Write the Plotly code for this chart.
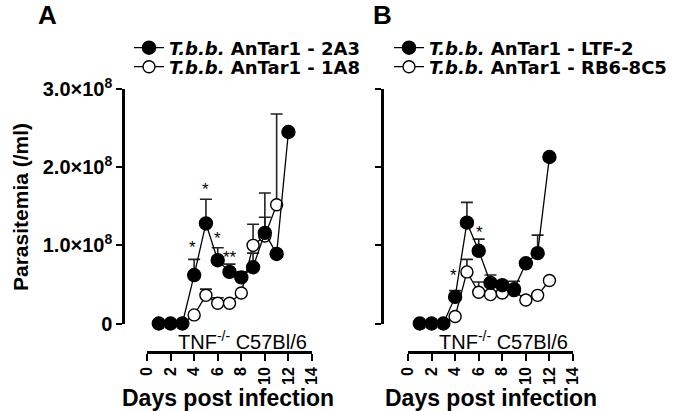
import plotly.graph_objects as go

W, H = 675, 411

days = [1, 2, 3, 4, 5, 6, 7, 8, 9, 10, 11, 12]

# Panel A
a_2a3 = [0, 0, 0, 0.62e8, 1.28e8, 0.81e8, 0.66e8, 0.59e8, 0.72e8, 1.16e8, 0.89e8, 2.45e8]
a_2a3_err = [0, 0, 0, 0.20e8, 0.31e8, 0.16e8, 0.10e8, 0.07e8, 0.18e8, 0.51e8, 0, 0]
a_1a8 = [0, 0, 0, 0.11e8, 0.36e8, 0.26e8, 0.26e8, 0.39e8, 1.00e8, 1.12e8, 1.52e8, None]
a_1a8_err = [0, 0, 0, 0, 0.08e8, 0.07e8, 0, 0, 0.27e8, 0.24e8, 1.16e8, 0]

# Panel B
b_ltf2 = [0, 0, 0, 0.34e8, 1.29e8, 0.93e8, 0.52e8, 0.49e8, 0.44e8, 0.77e8, 0.90e8, 2.13e8]
b_ltf2_err = [0, 0, 0, 0.08e8, 0.26e8, 0.15e8, 0.10e8, 0, 0.10e8, 0, 0.23e8, 0]
b_rb6 = [0, 0, 0, 0.09e8, 0.66e8, 0.40e8, 0.37e8, 0.39e8, 0.42e8, 0.30e8, 0.36e8, 0.55e8]
b_rb6_err = [0, 0, 0, 0, 0.16e8, 0.13e8, 0, 0, 0, 0, 0, 0]

# significance stars (day, level)
a_star_days = [3.9, 5.0, 6.0, 7.07]
a_star_levels = [1.02e8, 1.77e8, 1.14e8, 0.89e8]
a_star_text = ["*", "*", "*", "**"]
b_star_days = [3.9, 6.1]
b_star_levels = [0.67e8, 1.22e8]
b_star_text = ["*", "*"]

y_tickvals = [0, 1e8, 2e8, 3e8]
y_ticktext = ["0", "1.0×10<sup>8</sup>", "2.0×10<sup>8</sup>", "3.0×10<sup>8</sup>"]
x_tickvals = [0, 2, 4, 6, 8, 10, 12, 14]

FONT = "Arial, Liberation Sans, sans-serif"
LFONT = "DejaVu Sans, Arial, sans-serif"


def px_x(p):
    return p / W


def px_y(p):
    return 1 - p / H


fig = go.Figure()


def add_series(x, y, err, name, filled, xa, ya, legend):
    fig.add_trace(go.Scatter(
        x=x, y=y, name=name, mode="lines+markers",
        xaxis=xa, yaxis=ya, legend=legend,
        cliponaxis=False,
        line=dict(color="black", width=1.3),
        marker=dict(size=13 if filled else 12,
                    color="black" if filled else "white",
                    line=dict(color="black", width=1.4),
                    symbol="circle"),
        error_y=dict(type="data", symmetric=False, array=err,
                     arrayminus=[0] * len(err), color="#222", thickness=1.6, width=6),
    ))


# open first so filled is drawn on top
add_series(days, a_1a8, a_1a8_err, "<b><i>T.b.b.</i> AnTar1 - 1A8</b>", False, "x", "y", "legend2")
add_series(days, a_2a3, a_2a3_err, "<b><i>T.b.b.</i> AnTar1 - 2A3</b>", True, "x", "y", "legend")
add_series(days, b_rb6, b_rb6_err, "<b><i>T.b.b.</i> AnTar1 - RB6-8C5</b>", False, "x2", "y2", "legend4")
add_series(days, b_ltf2, b_ltf2_err, "<b><i>T.b.b.</i> AnTar1 - LTF-2</b>", True, "x2", "y2", "legend3")

ydom = [px_y(323.5), px_y(89)]
xa_common = dict(range=[0, 14], tickvals=x_tickvals, tickangle=-90,
                 showline=True, linecolor="black", linewidth=2.5,
                 ticks="outside", ticklen=7, tickwidth=2.2, tickcolor="black",
                 showgrid=False, zeroline=False, anchor="free",
                 position=px_y(352),
                 tickfont=dict(family=FONT, size=16, color="black", weight="bold"))
ya_common = dict(range=[0, 3e8], tickvals=y_tickvals, domain=ydom,
                 showline=True, linecolor="black", linewidth=2.5,
                 ticks="outside", ticklen=6, tickwidth=2.2, tickcolor="black",
                 showgrid=False, zeroline=False, anchor="free",
                 tickfont=dict(family=FONT, size=20, color="black", weight="bold"))


def leg(xp, yp):
    return dict(x=px_x(xp), y=px_y(yp), xanchor="left", yanchor="middle",
                bgcolor="rgba(0,0,0,0)", borderwidth=0,
                font=dict(family=LFONT, size=18, color="black"),
                itemsizing="trace")


fig.update_layout(
    width=W, height=H, margin=dict(l=0, r=0, t=0, b=0, autoexpand=False),
    paper_bgcolor="white", plot_bgcolor="white",
    font=dict(family=FONT, color="black"),
    xaxis=dict(domain=[px_x(147), px_x(312)], **xa_common),
    xaxis2=dict(domain=[px_x(408), px_x(573)], **xa_common),
    yaxis=dict(position=px_x(123), ticktext=y_ticktext, **ya_common),
    yaxis2=dict(position=px_x(382), ticktext=[""] * 4, **ya_common),
    legend=leg(129, 48),
    legend2=leg(129, 67),
    legend3=leg(389, 48),
    legend4=leg(389, 67),
    showlegend=True,
)

ann = []
for d, v, t in zip(a_star_days, a_star_levels, a_star_text):
    ann.append(dict(x=d, y=v, xref="x", yref="y", text=t, showarrow=False,
                    font=dict(size=17, color="black"), yanchor="middle", yshift=-4))
for d, v, t in zip(b_star_days, b_star_levels, b_star_text):
    ann.append(dict(x=d, y=v, xref="x2", yref="y2", text=t, showarrow=False,
                    font=dict(size=17, color="black"), yanchor="middle", yshift=-4))

paper_texts = [
    ("A", 47, 15, 26, "bold", 0),
    ("B", 383, 15, 26, "bold", 0),
    ("TNF<sup>-/-</sup> C57Bl/6", 242, 340, 20, "normal", 0),
    ("TNF<sup>-/-</sup> C57Bl/6", 503, 340, 20, "normal", 0),
    ("Days post infection", 228, 398, 23, "bold", 0),
    ("Days post infection", 491, 398, 23, "bold", 0),
    ("Parasitemia (/ml)", 20, 207, 21, "bold", -90),
]
for t, x, y, s, wgt, ang in paper_texts:
    ann.append(dict(x=px_x(x), y=px_y(y), xref="paper", yref="paper", text=t,
                    showarrow=False, xanchor="center", yanchor="middle", textangle=ang,
                    font=dict(family=FONT, size=s, color="black", weight=wgt)))

fig.update_layout(annotations=ann)
fig.write_html("out.html",
               config={"displayModeBar": False},
               post_script="document.body.style.margin='0';document.body.style.padding='0';"
                           "document.documentElement.style.overflow='hidden';")
